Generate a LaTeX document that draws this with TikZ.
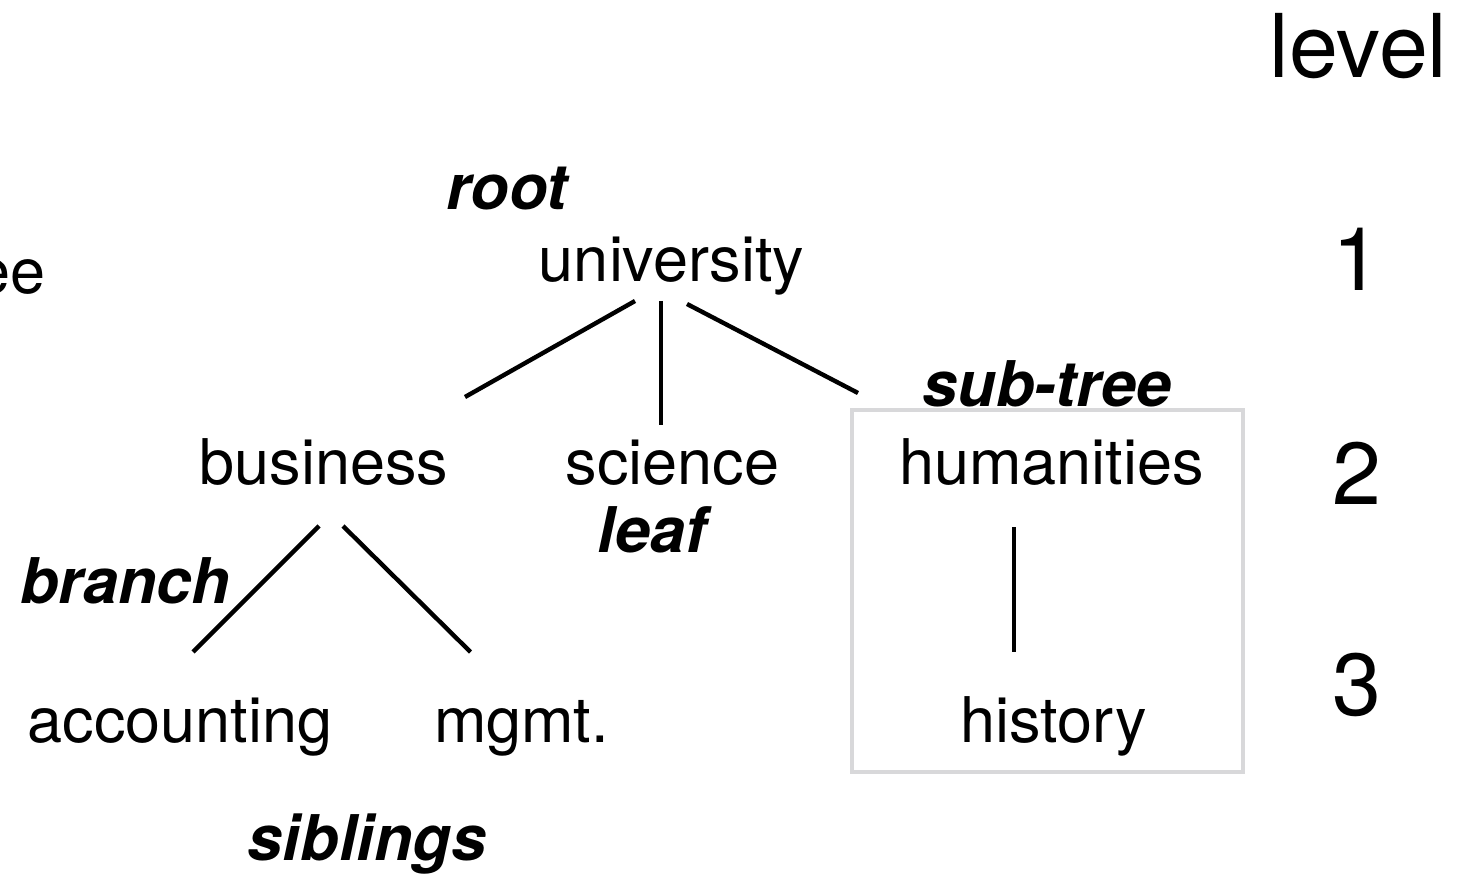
\documentclass[tikz,border=0pt]{standalone}
\usepackage{fontspec}
\setmainfont{TeX Gyre Heros}
\usepackage{tikz}
\usetikzlibrary{calc}

\definecolor{boxgray}{RGB}{216,216,218}
\tikzset{
	lbl/.style={anchor=base, inner sep=0pt, font=\fontsize{31.5}{36}\selectfont},
	term/.style={lbl, font=\fontsize{31.5}{36}\selectfont\bfseries\itshape},
	lvl/.style={anchor=base, inner sep=0pt, font=\fontsize{44}{50}\selectfont},
	link/.style={line width=2.2pt}
}

\begin{document}
\begin{tikzpicture}[x=0.5pt, y=-0.5pt]
		\useasboundingbox (0,0) rectangle (1476,881);
		%\draw[boxgray] (0,0) rectangle (1476,881);
		% tree
		\node[lbl] (uni) at (671.5,282) {university};
		\node[lbl] (bus) at (324,485) {business};
		\node[lbl] (sci) at (672.5,485) {science};
		\node[lbl] (hum) at (1051.5,485) {humanities};
		\node[lbl] (acc) at (180,742) {accounting};
		\node[lbl] (mgmt) at (521.5,742) {mgmt.};
		\node[lbl] (hist) at (1053.5,742) {history};
		\node[lbl, anchor=base east] (tree) at (46,294) {ee};
		% terms
		\node[term] (root) at (507,210) {root};
		\node[term] (leaf) at (652,552) {leaf};
		\node[term] (subtree) at (1047,407) {sub-tree};
		\node[term] (branch) at (125,603) {branch};
		\node[term] (sibl) at (367,860) {siblings};
		% levels
		\node[lvl] (level) at (1358.5,78) {level};
		\foreach \l/\y in {1/291, 2/504, 3/715}
			\node[lvl] (lvl\l) at (1357,\y) {\l};
		% sub-tree box
		\draw[boxgray, line width=2pt] (852,410) rectangle (1243,772);
		% edges
		\draw[link] ([shift={(-36.5,19)}]uni.base) -- ([shift={(141,-88)}]bus.base);
		\draw[link] ([shift={(-10.5,19)}]uni.base) -- ([shift={(-11.5,-60)}]sci.base);
		\draw[link] ([shift={(15.5,22)}]uni.base) -- ([shift={(-193.5,-92)}]hum.base);
		\draw[link] ([shift={(-5,41)}]bus.base) -- ([shift={(13,-90)}]acc.base);
		\draw[link] ([shift={(19,41)}]bus.base) -- ([shift={(-51,-90)}]mgmt.base);
		\draw[link] ([shift={(-37.5,42)}]hum.base) -- ([shift={(-39.5,-90)}]hist.base);
\end{tikzpicture}
\end{document}
